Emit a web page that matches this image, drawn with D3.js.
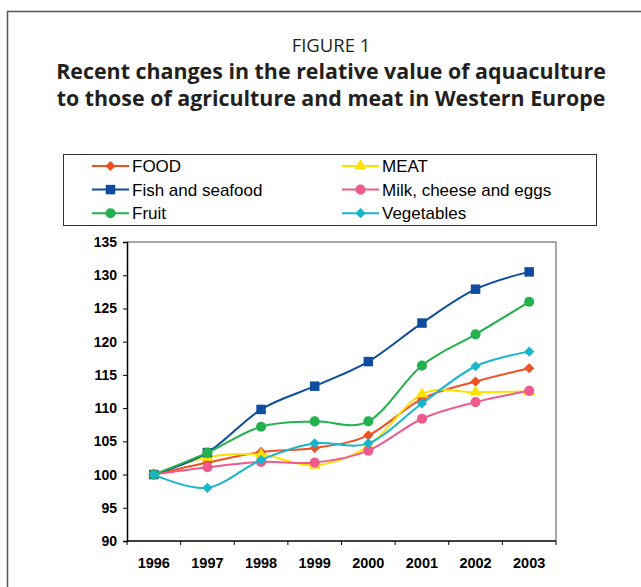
<!DOCTYPE html>
<html>
<head>
<meta charset="utf-8">
<script src="https://cdn.jsdelivr.net/npm/d3@7"></script>
<style>
  body { margin: 0; background: #fff; }
  svg { display: block; }
</style>
</head>
<body>
<div id="wrapper"></div>
<script>
// years on the x axis
const years = ["1996", "1997", "1998", "1999", "2000", "2001", "2002", "2003"]
const yTicks = [90, 95, 100, 105, 110, 115, 120, 125, 130, 135]

// index values (1996 = 100)
const food       = [100, 101.8, 103.4, 104.0, 105.9, 111.4, 114.0, 116.0]
const meat       = [100, 102.6, 103.0, 101.4, 104.3, 112.1, 112.4, 112.5]
const fish       = [100, 103.3, 109.8, 113.3, 117.0, 122.8, 127.9, 130.5]
const milk       = [100, 101.1, 101.9, 101.8, 103.6, 108.4, 110.9, 112.6]
const fruit      = [100, 103.3, 107.2, 108.0, 108.0, 116.4, 121.1, 126.0]
const vegetables = [100, 98.0, 102.2, 104.7, 104.7, 110.7, 116.3, 118.5]

const seriesNames = ["FOOD", "MEAT", "Fish and seafood", "Milk, cheese and eggs", "Fruit", "Vegetables"]

// diamond = square turned 45 degrees
const series = [
  { name: seriesNames[0], values: food, color: "#f05023", symbol: d3.symbolSquare, size: 52, rotate: 45 },
  { name: seriesNames[1], values: meat, color: "#ffe100", symbol: d3.symbolTriangle, size: 62, rotate: 0 },
  { name: seriesNames[2], values: fish, color: "#0d4c9e", symbol: d3.symbolSquare, size: 90, rotate: 0 },
  { name: seriesNames[3], values: milk, color: "#ee5a8c", symbol: d3.symbolCircle, size: 80, rotate: 0 },
  { name: seriesNames[4], values: fruit, color: "#23b14d", symbol: d3.symbolCircle, size: 80, rotate: 0 },
  { name: seriesNames[5], values: vegetables, color: "#19b5cc", symbol: d3.symbolSquare, size: 52, rotate: 45 },
]

let dimensions = {
  width: 641,
  height: 587,
  plot: { left: 127, top: 242, right: 556, bottom: 541 },
}

const svg = d3.select("#wrapper")
  .append("svg")
    .attr("width", dimensions.width)
    .attr("height", dimensions.height)
    .style("font-family", "'Liberation Sans', Arial, sans-serif")

// outer frame
svg.append("rect")
  .attr("x", 7.5).attr("y", 11.5)
  .attr("width", 660).attr("height", 600)
  .attr("fill", "none")
  .attr("stroke", "#555")
  .attr("stroke-width", 1.5)

// titles
const titleX = 331
svg.append("text")
  .attr("x", titleX).attr("y", 52)
  .attr("text-anchor", "middle")
  .style("font-family", "'Open Sans', 'Noto Sans', sans-serif")
  .style("font-size", "18.5px")
  .attr("fill", "#231f20")
  .text("FIGURE 1")

const titleLines = ["Recent changes in the relative value of aquaculture", "to those of agriculture and meat in Western Europe"]
svg.selectAll(".title")
  .data(titleLines)
  .join("text")
    .attr("class", "title")
    .attr("x", titleX)
    .attr("y", (d, i) => 78.5 + i * 27.5)
    .attr("text-anchor", "middle")
    .style("font-family", "'Open Sans', 'Noto Sans', sans-serif")
    .style("font-size", "21.4px")
    .style("font-weight", "bold")
    .attr("fill", "#231f20")
    .text(d => d)

// legend
const legend = svg.append("g")
legend.append("rect")
  .attr("x", 63.5).attr("y", 154.5)
  .attr("width", 533).attr("height", 71)
  .attr("fill", "#fff")
  .attr("stroke", "#333")
  .attr("stroke-width", 1)

const legendItems = legend.selectAll(".item")
  .data(series)
  .join("g")
    .attr("class", "item")
    .attr("transform", (d, i) => `translate(${i % 2 === 0 ? 92 : 342}, ${166 + Math.floor(i / 2) * 23.6})`)

legendItems.append("line")
  .attr("x1", 0).attr("x2", 37)
  .attr("stroke", d => d.color)
  .attr("stroke-width", 2)
legendItems.append("path")
  .attr("transform", d => `translate(18.5,0) rotate(${d.rotate})`)
  .attr("d", d => d3.symbol(d.symbol, d.size)())
  .attr("fill", d => d.color)
legendItems.append("text")
  .attr("x", 40).attr("y", 6)
  .style("font-size", "17px")
  .attr("fill", "#000")
  .text(d => d.name)

// scales
const xScale = d3.scaleBand()
  .domain(years)
  .range([dimensions.plot.left, dimensions.plot.right])

const yScale = d3.scaleLinear()
  .domain([90, 135])
  .range([dimensions.plot.bottom, dimensions.plot.top])

const xCenter = d => xScale(d) + xScale.bandwidth() / 2

// plot border (top and right, grey)
svg.append("path")
  .attr("d", `M${dimensions.plot.left},${dimensions.plot.top}H${dimensions.plot.right}V${dimensions.plot.bottom}`)
  .attr("fill", "none")
  .attr("stroke", "#8c8c8c")
  .attr("stroke-width", 1.5)

// y axis
const yAxis = svg.append("g")
  .attr("transform", `translate(${dimensions.plot.left},0)`)
  .call(d3.axisLeft(yScale).tickValues(yTicks).tickSize(4).tickPadding(6))
yAxis.select(".domain").attr("stroke", "#000").attr("stroke-width", 1.5)
yAxis.selectAll(".tick line").attr("stroke", "#000")
yAxis.selectAll(".tick text")
  .style("font-family", "'Liberation Sans', Arial, sans-serif")
  .style("font-size", "14px")
  .style("font-weight", "bold")
  .attr("fill", "#000")

// x axis: ticks on band boundaries, labels centred in bands
const xAxis = svg.append("g")
  .attr("transform", `translate(0,${dimensions.plot.bottom})`)
xAxis.append("line")
  .attr("x1", dimensions.plot.left).attr("x2", dimensions.plot.right)
  .attr("stroke", "#000").attr("stroke-width", 1.5)
xAxis.selectAll(".xtick")
  .data(years.concat(["end"]))
  .join("line")
    .attr("class", "xtick")
    .attr("x1", (d, i) => i < years.length ? xScale(d) : dimensions.plot.right)
    .attr("x2", (d, i) => i < years.length ? xScale(d) : dimensions.plot.right)
    .attr("y1", 0).attr("y2", 4)
    .attr("stroke", "#000")
xAxis.selectAll(".xlabel")
  .data(years)
  .join("text")
    .attr("class", "xlabel")
    .attr("x", d => xCenter(d))
    .attr("y", 27)
    .attr("text-anchor", "middle")
    .style("font-size", "14.5px")
    .style("font-weight", "bold")
    .attr("fill", "#000")
    .text(d => d)

// lines and markers
const lineGenerator = d3.line()
  .x((d, i) => xCenter(years[i]))
  .y(d => yScale(d))
  .curve(d3.curveCatmullRom.alpha(0))

const groups = svg.selectAll(".series")
  .data(series)
  .join("g")
    .attr("class", "series")

groups.append("path")
  .attr("d", d => lineGenerator(d.values))
  .attr("fill", "none")
  .attr("stroke", d => d.color)
  .attr("stroke-width", 2)

groups.each(function (s) {
  d3.select(this).selectAll(".marker")
    .data(s.values)
    .join("path")
      .attr("class", "marker")
      .attr("transform", (d, i) => `translate(${xCenter(years[i])},${yScale(d)}) rotate(${s.rotate})`)
      .attr("d", d3.symbol(s.symbol, s.size)())
      .attr("fill", s.color)
})
</script>
</body>
</html>
